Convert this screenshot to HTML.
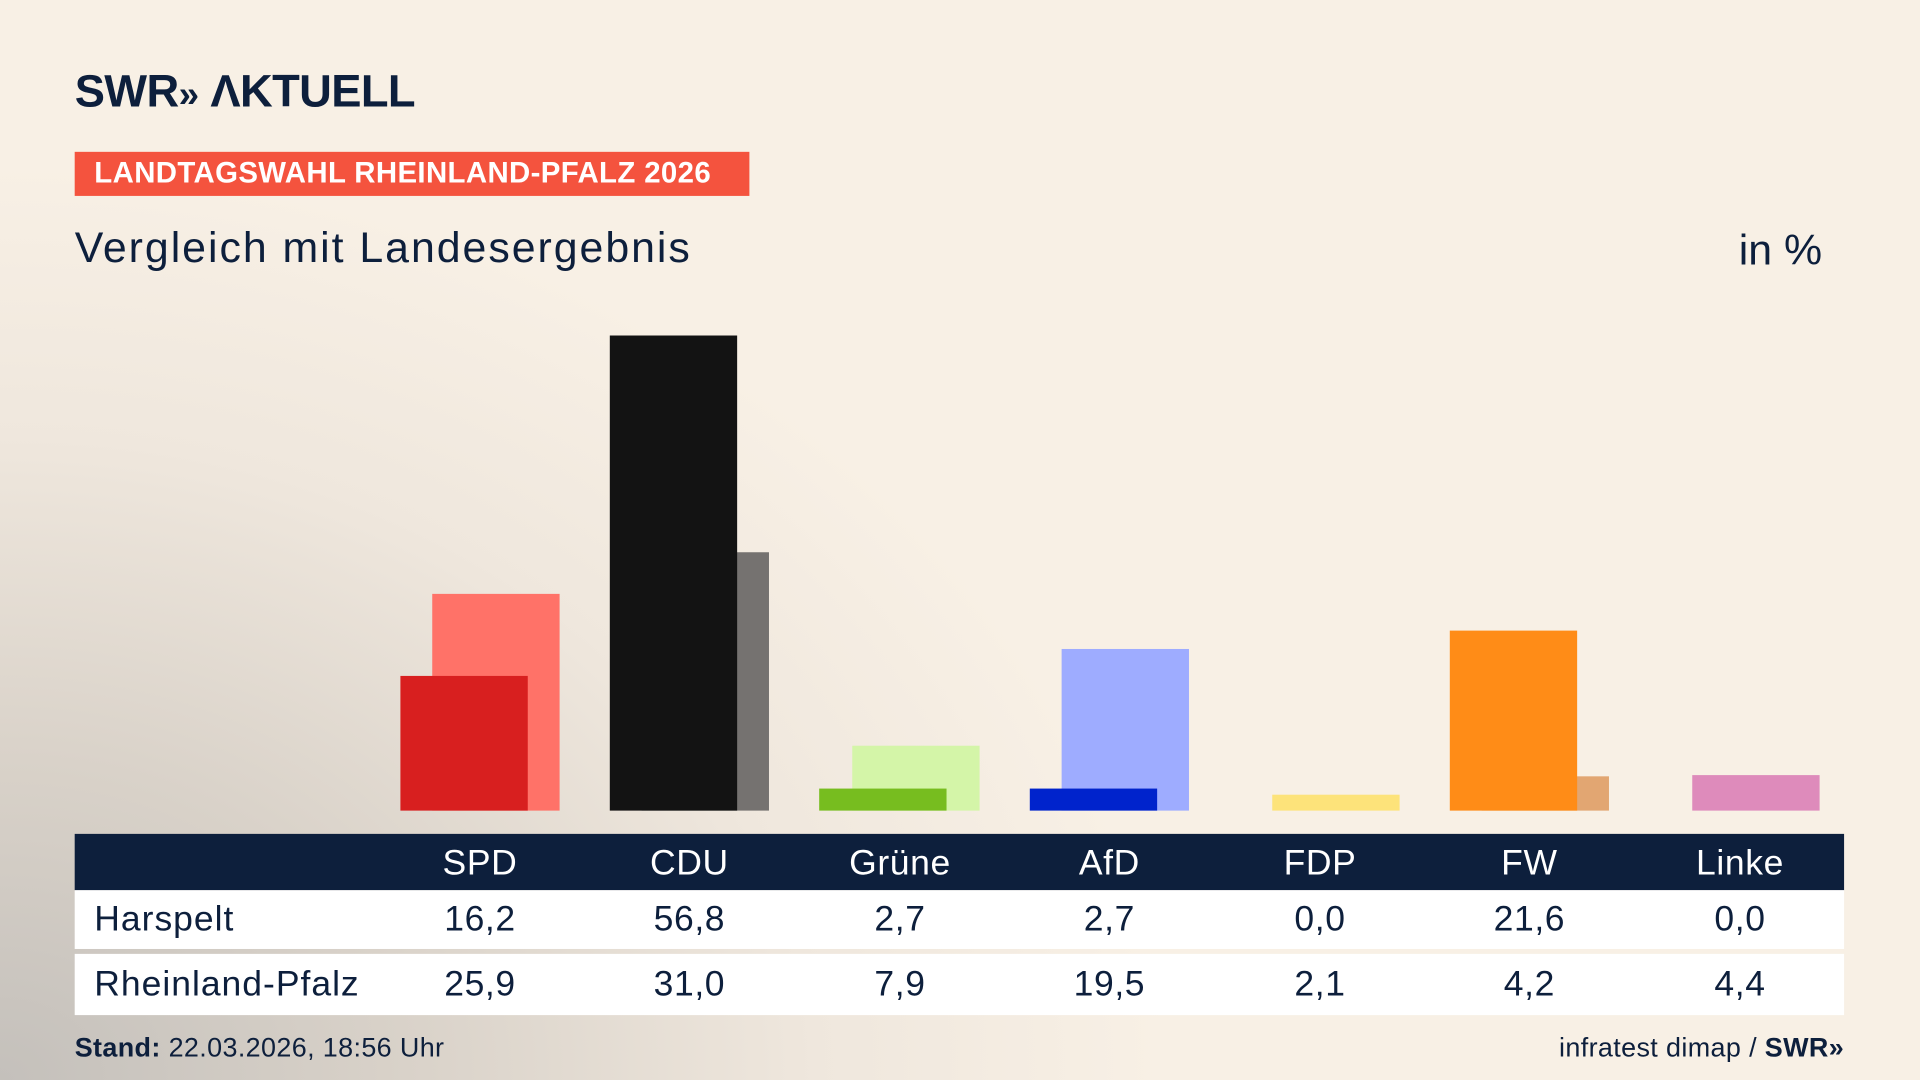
<!DOCTYPE html>
<html><head><meta charset="utf-8"><style>
html,body{margin:0;padding:0;width:1920px;height:1080px;overflow:hidden}
#w{position:absolute;left:0;top:0;width:1568px;height:882px;transform:scale(1.22449);transform-origin:0 0;
background:radial-gradient(ellipse 950px 750px at 0px 882px,#c4c0bb 0%,#d9d2c9 35%,#efe7dd 70%,#f8f0e5 100%);
font-family:"Liberation Sans","DejaVu Sans",sans-serif;color:#0d1f3c}
.a{position:absolute}
.b{position:absolute}
.t{position:absolute;font-size:29px;text-align:center;width:140px;letter-spacing:0.5px}
</style></head><body><div id="w">
<div class="a" style="left:61px;top:54px;font-size:37px;font-weight:bold;letter-spacing:-0.5px">SWR<span style="font-size:30px">»</span> ΛKTUELL</div>
<div class="a" style="left:61px;top:124px;width:551px;height:36px;background:#f4533e;color:#fff;font-weight:bold;font-size:24px;line-height:36px;text-indent:16px;letter-spacing:0.3px">LANDTAGSWAHL RHEINLAND-PFALZ 2026</div>
<div class="a" style="left:61px;top:183px;font-size:35px;letter-spacing:1.6px">Vergleich mit Landesergebnis</div>
<div class="a" style="left:1420px;top:185px;font-size:35px">in %</div>
<div class="b" style="left:353px;top:485px;width:104px;height:177px;background:#ff7268"></div>
<div class="b" style="left:524px;top:451px;width:104px;height:211px;background:#757270"></div>
<div class="b" style="left:696px;top:609px;width:104px;height:53px;background:#d4f5a8"></div>
<div class="b" style="left:867px;top:530px;width:104px;height:132px;background:#9eacff"></div>
<div class="b" style="left:1039px;top:649px;width:104px;height:13px;background:#fde37a"></div>
<div class="b" style="left:1210px;top:634px;width:104px;height:28px;background:#e2a672"></div>
<div class="b" style="left:1382px;top:633px;width:104px;height:29px;background:#de8bbb"></div>
<div class="b" style="left:327px;top:552px;width:104px;height:110px;background:#d81f1f"></div>
<div class="b" style="left:498px;top:274px;width:104px;height:388px;background:#131313"></div>
<div class="b" style="left:669px;top:644px;width:104px;height:18px;background:#77bd1f"></div>
<div class="b" style="left:841px;top:644px;width:104px;height:18px;background:#0023cc"></div>
<div class="b" style="left:1184px;top:515px;width:104px;height:147px;background:#ff8c17"></div>
<div class="a" style="left:61px;top:681px;width:1445px;height:46px;background:#0d1f3c"></div>
<div class="a" style="left:61px;top:727px;width:1445px;height:48px;background:#fff"></div>
<div class="a" style="left:61px;top:779px;width:1445px;height:50px;background:#fff"></div>
<div class="a" style="left:77px;top:735px;font-size:29px;letter-spacing:0.8px">Harspelt</div>
<div class="a" style="left:77px;top:788px;font-size:29px;letter-spacing:0.8px">Rheinland-Pfalz</div>
<div style="color:#fff">
<div class="t" style="left:322px;top:689px">SPD</div><div class="t" style="left:493px;top:689px">CDU</div><div class="t" style="left:665px;top:689px">Grüne</div><div class="t" style="left:836px;top:689px">AfD</div><div class="t" style="left:1008px;top:689px">FDP</div><div class="t" style="left:1179px;top:689px">FW</div><div class="t" style="left:1351px;top:689px">Linke</div>
</div>
<div class="t" style="left:322px;top:735px">16,2</div><div class="t" style="left:493px;top:735px">56,8</div><div class="t" style="left:665px;top:735px">2,7</div><div class="t" style="left:836px;top:735px">2,7</div><div class="t" style="left:1008px;top:735px">0,0</div><div class="t" style="left:1179px;top:735px">21,6</div><div class="t" style="left:1351px;top:735px">0,0</div>
<div class="t" style="left:322px;top:788px">25,9</div><div class="t" style="left:493px;top:788px">31,0</div><div class="t" style="left:665px;top:788px">7,9</div><div class="t" style="left:836px;top:788px">19,5</div><div class="t" style="left:1008px;top:788px">2,1</div><div class="t" style="left:1179px;top:788px">4,2</div><div class="t" style="left:1351px;top:788px">4,4</div>
<div class="a" style="left:61px;top:843px;font-size:22px;letter-spacing:0.3px"><b>Stand:</b> 22.03.2026, 18:56 Uhr</div>
<div class="a" style="right:62px;top:843px;font-size:22px;letter-spacing:0.3px">infratest dimap / <b>SWR»</b></div>
</div></body></html>
